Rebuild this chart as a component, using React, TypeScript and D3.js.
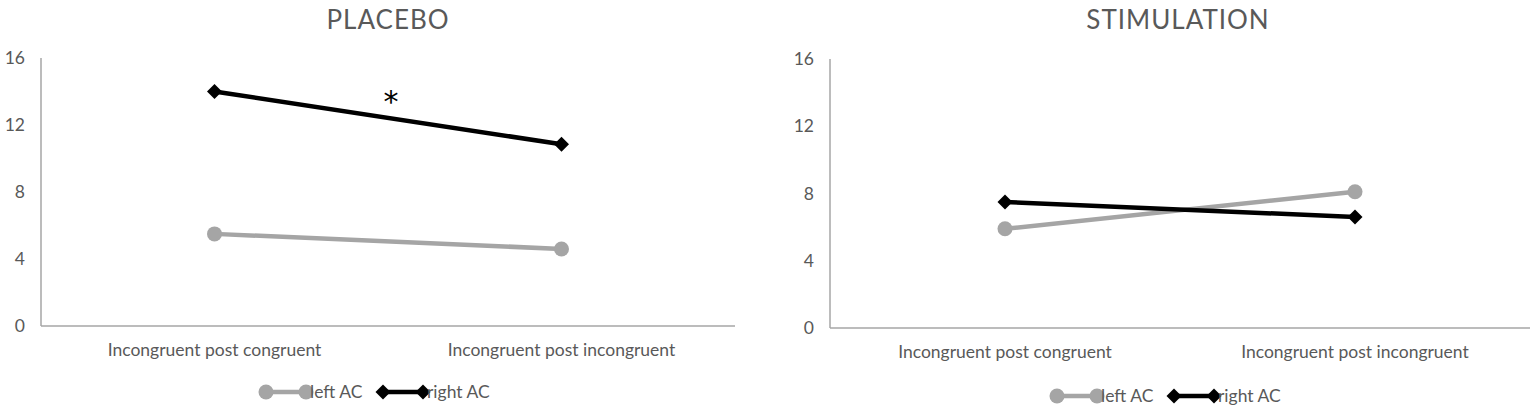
import React from "react";
import * as d3 from "d3";

const categories = ["Incongruent post congruent", "Incongruent post incongruent"];
const yTicks = [0, 4, 8, 12, 16];
const seriesNames = ["left AC", "right AC"];

const placeboLeft = [5.5, 4.6];
const placeboRight = [14.0, 10.85];
const stimLeft = [5.9, 8.1];
const stimRight = [7.5, 6.6];

const GRAY = "#a5a5a5";
const TXT = "#595959";
const FONT = "Lato, 'Open Sans', sans-serif";

type PanelProps = {
  title: string;
  left: number[];
  right: number[];
  x0: number;
  x1: number;
  yTop: number;
  yBottom: number;
  titleX: number;
  legendX: number;
  legendY: number;
  star?: boolean;
};

const diamond = (cx: number, cy: number, r: number) =>
  `M${cx},${cy - r}L${cx + r},${cy}L${cx},${cy + r}L${cx - r},${cy}Z`;

const Panel = (p: PanelProps) => {
  const x = d3.scaleBand().domain(categories).range([p.x0, p.x1]);
  const y = d3.scaleLinear().domain([0, 16]).range([p.yBottom, p.yTop]);
  const cx = (c: string) => (x(c) as number) + x.bandwidth() / 2;
  const line = d3
    .line<number>()
    .x((_, i) => cx(categories[i]))
    .y((d) => y(d));

  return (
    <g>
      <text x={p.titleX} y={29} textAnchor="middle" fontSize={26} letterSpacing={1} fill={TXT} fontFamily={FONT}>
        {p.title}
      </text>
      {/* axes */}
      <line x1={p.x0} x2={p.x0} y1={p.yTop} y2={p.yBottom} stroke="#a6a6a6" strokeWidth={1.5} />
      <line x1={p.x0} x2={p.x1} y1={p.yBottom} y2={p.yBottom} stroke="#a6a6a6" strokeWidth={1.5} />
      {yTicks.map((t) => (
        <text key={t} x={p.x0 - 16} y={y(t)} dy="0.35em" textAnchor="end" fontSize={17.5} fill={TXT} fontFamily={FONT}>
          {t}
        </text>
      ))}
      {categories.map((c) => (
        <text key={c} x={cx(c)} y={p.yBottom + 30} textAnchor="middle" fontSize={17.5} fill={TXT} fontFamily={FONT}>
          {c}
        </text>
      ))}
      {/* series */}
      <path d={line(p.left) || ""} fill="none" stroke={GRAY} strokeWidth={4.5} />
      {p.left.map((v, i) => (
        <circle key={i} cx={cx(categories[i])} cy={y(v)} r={7.5} fill={GRAY} />
      ))}
      <path d={line(p.right) || ""} fill="none" stroke="#000" strokeWidth={4.5} />
      {p.right.map((v, i) => (
        <path key={i} d={diamond(cx(categories[i]), y(v), 7.5)} fill="#000" />
      ))}
      {p.star && (
        <text
          x={(cx(categories[0]) + cx(categories[1])) / 2 + 3}
          y={y((p.right[0] + p.right[1]) / 2) - 6}
          textAnchor="middle"
          fontSize={30}
          fill="#000"
          fontFamily="'DejaVu Sans', sans-serif"
        >
          *
        </text>
      )}
      {/* legend */}
      <g transform={`translate(${p.legendX},${p.legendY})`}>
        <line x1={0} x2={40} y1={0} y2={0} stroke={GRAY} strokeWidth={4.5} />
        <circle cx={0} cy={0} r={7.5} fill={GRAY} />
        <circle cx={40} cy={0} r={7.5} fill={GRAY} />
        <text x={44} y={0} dy="0.35em" fontSize={17.5} fill={TXT} fontFamily={FONT}>
          {seriesNames[0]}
        </text>
        <line x1={117} x2={157} y1={0} y2={0} stroke="#000" strokeWidth={4.5} />
        <path d={diamond(117, 0, 7.5)} fill="#000" />
        <path d={diamond(157, 0, 7.5)} fill="#000" />
        <text x={161} y={0} dy="0.35em" fontSize={17.5} fill={TXT} fontFamily={FONT}>
          {seriesNames[1]}
        </text>
      </g>
    </g>
  );
};

export default function App() {
  return (
    <svg width={1535} height={411} style={{ position: "absolute", left: 0, top: 0, background: "#fff" }}>
      <rect width={1535} height={411} fill="#fff" />
      <Panel
        title="PLACEBO"
        left={placeboLeft}
        right={placeboRight}
        x0={41}
        x1={735}
        yTop={58}
        yBottom={326}
        titleX={388}
        legendX={266}
        legendY={392}
        star
      />
      <Panel
        title="STIMULATION"
        left={stimLeft}
        right={stimRight}
        x0={830}
        x1={1530}
        yTop={59}
        yBottom={328}
        titleX={1178}
        legendX={1057}
        legendY={396}
      />
    </svg>
  );
}
